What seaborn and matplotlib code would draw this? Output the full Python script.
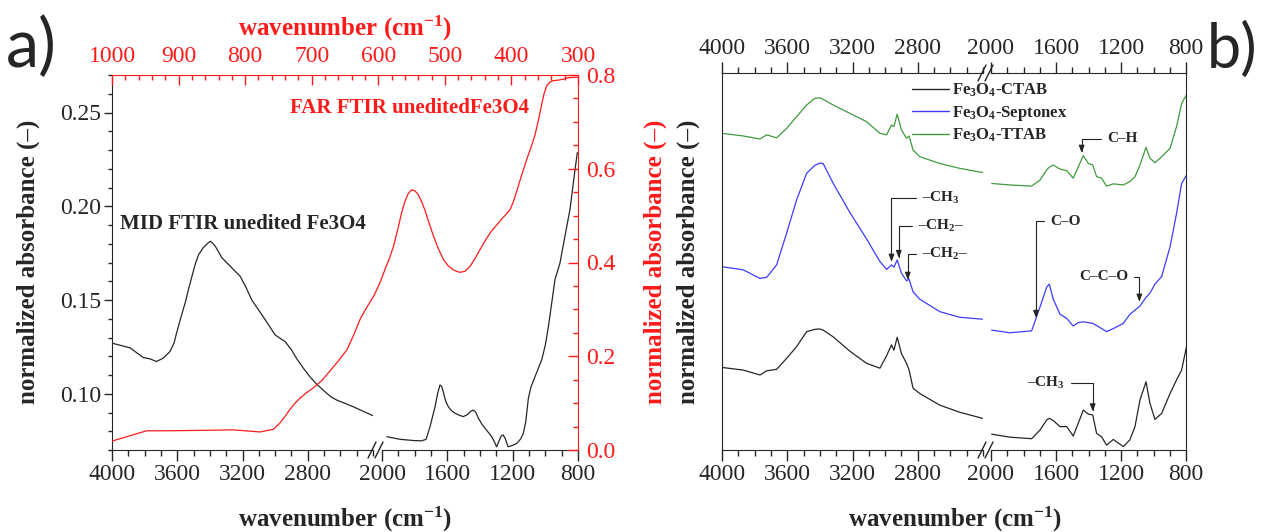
import numpy as np
import pandas as pd
import matplotlib
matplotlib.use("Agg")
import matplotlib.pyplot as plt
import seaborn as sns
from matplotlib.ticker import MultipleLocator, FixedLocator, FormatStrFormatter
from matplotlib.lines import Line2D

sns.set_style("ticks")
plt.rcParams["font.family"] = ["Liberation Serif", "DejaVu Serif"]
plt.rcParams["mathtext.fontset"] = "custom"
plt.rcParams["mathtext.rm"] = "Liberation Serif"
plt.rcParams["mathtext.bf"] = "Liberation Serif:bold"
plt.rcParams["mathtext.it"] = "Liberation Serif:italic"

# ---- panel a: MID FTIR (left axis), broken x axis 4000-2400 | 2000-800
mid_w_hi = [4000, 3890, 3808, 3767, 3727, 3686, 3645, 3620, 3604, 3580, 3551, 3530, 3510,
            3490, 3469, 3440, 3410, 3396, 3380, 3367, 3326, 3265, 3214, 3180, 3143, 3100,
            3061, 3000, 2960, 2940, 2900, 2870, 2830, 2788, 2750, 2706, 2660, 2624, 2522,
            2400]
mid_a_hi = [0.127, 0.1245, 0.1193, 0.1186, 0.1172, 0.119, 0.1225, 0.127, 0.1324, 0.140,
            0.1486, 0.156, 0.1626, 0.169, 0.1742, 0.178, 0.1805, 0.1813, 0.180, 0.1787,
            0.1725, 0.1671, 0.1626, 0.157, 0.150, 0.1445, 0.1395, 0.1314, 0.1290, 0.1279,
            0.1235, 0.119, 0.114, 0.1092, 0.1055, 0.102, 0.0985, 0.0967, 0.0931, 0.0883]
mid_w_lo = [1970, 1890, 1800, 1757, 1730, 1706, 1690, 1675, 1660, 1645, 1635, 1625, 1610,
            1594, 1575, 1553, 1525, 1502, 1475, 1455, 1441, 1425, 1410, 1390, 1369, 1350,
            1328, 1310, 1298, 1285, 1270, 1258, 1245, 1228, 1200, 1175, 1150, 1135, 1120,
            1104, 1090, 1073, 1050, 1022, 1000, 981, 960, 941, 925, 910, 895, 880, 865,
            849, 835, 818, 804]
mid_a_lo = [0.0771, 0.0757, 0.0750, 0.0749, 0.0757, 0.0824, 0.088, 0.0931, 0.100, 0.1047,
            0.1040, 0.1010, 0.096, 0.0931, 0.0910, 0.0896, 0.0885, 0.0878, 0.0890, 0.0908,
            0.0913, 0.0900, 0.0870, 0.0840, 0.0816, 0.0795, 0.0771, 0.0740, 0.0717, 0.0745,
            0.0775, 0.0780, 0.0760, 0.0717, 0.0725, 0.0735, 0.0760, 0.0789, 0.085, 0.0975,
            0.103, 0.107, 0.112, 0.1181, 0.126, 0.1359, 0.149, 0.1609, 0.1655, 0.1698,
            0.177, 0.184, 0.191, 0.1983, 0.208, 0.2197, 0.2286]

# ---- panel a: FAR FTIR (top / right red axes)
far_w = [1000, 948, 918, 860, 818, 778, 758, 748, 740, 733, 725, 718, 708, 698, 685, 673,
         660, 647, 637, 627, 617, 607, 598, 590, 583, 577, 570, 565, 560, 555, 550, 545,
         540, 535, 530, 525, 518, 510, 502, 495, 487, 478, 470, 462, 455, 447, 438, 430,
         422, 415, 408, 402, 397, 392, 385, 377, 370, 365, 360, 355, 351, 347, 342, 337,
         330, 322, 315, 307, 301]
far_a = [0.019, 0.041, 0.041, 0.042, 0.043, 0.0385, 0.044, 0.057, 0.072, 0.086, 0.100,
         0.110, 0.122, 0.132, 0.148, 0.168, 0.190, 0.214, 0.245, 0.280, 0.305, 0.328, 0.355,
         0.385, 0.410, 0.435, 0.475, 0.506, 0.530, 0.547, 0.555, 0.553, 0.545, 0.530, 0.512,
         0.490, 0.460, 0.430, 0.406, 0.393, 0.384, 0.379, 0.381, 0.392, 0.408, 0.428, 0.450,
         0.467, 0.480, 0.492, 0.503, 0.513, 0.530, 0.552, 0.585, 0.620, 0.648, 0.670, 0.700,
         0.734, 0.760, 0.777, 0.785, 0.788, 0.789, 0.791, 0.794, 0.795, 0.795]

# ---- panel b: stacked spectra (arbitrary units)
b_w_hi = [4000, 3870, 3767, 3726, 3665, 3604, 3543, 3481, 3431, 3400, 3380, 3318, 3216,
          3114, 3032, 2991, 2961, 2946, 2926, 2900, 2869, 2853, 2829, 2788, 2665, 2542,
          2403]
ttab_hi = [0.840, 0.833, 0.825, 0.836, 0.828, 0.853, 0.884, 0.915, 0.933, 0.934, 0.930,
           0.915, 0.893, 0.871, 0.840, 0.836, 0.862, 0.858, 0.891, 0.849, 0.827, 0.833,
           0.796, 0.778, 0.760, 0.747, 0.736]
sept_hi = [0.486, 0.478, 0.455, 0.458, 0.491, 0.575, 0.663, 0.734, 0.755, 0.761, 0.760,
           0.707, 0.630, 0.560, 0.500, 0.479, 0.491, 0.485, 0.504, 0.469, 0.449, 0.453,
           0.420, 0.400, 0.367, 0.352, 0.347]
ctab_hi = [0.219, 0.212, 0.199, 0.210, 0.214, 0.243, 0.274, 0.314, 0.320, 0.321, 0.318,
           0.300, 0.262, 0.230, 0.217, 0.250, 0.279, 0.265, 0.299, 0.256, 0.230, 0.212,
           0.164, 0.150, 0.119, 0.100, 0.084]

b_w_lo = [1996, 1883, 1750, 1698, 1657, 1641, 1617, 1575, 1534, 1494, 1463, 1432, 1401,
          1374, 1350, 1319, 1289, 1247, 1186, 1145, 1114, 1083, 1046, 1022, 991, 950, 898,
          858, 827, 797]
ttab_lo = [0.707, 0.703, 0.700, 0.716, 0.743, 0.750, 0.756, 0.745, 0.741, 0.721, 0.751,
           0.781, 0.760, 0.756, 0.725, 0.721, 0.700, 0.706, 0.703, 0.712, 0.725, 0.756,
           0.803, 0.774, 0.762, 0.778, 0.800, 0.858, 0.919, 0.942]
sept_lo = [0.318, 0.311, 0.316, 0.380, 0.432, 0.440, 0.400, 0.360, 0.349, 0.329, 0.338,
           0.340, 0.338, 0.336, 0.330, 0.322, 0.314, 0.322, 0.336, 0.360, 0.371, 0.382,
           0.405, 0.416, 0.440, 0.460, 0.539, 0.628, 0.707, 0.729]
ctab_lo = [0.042, 0.034, 0.030, 0.053, 0.080, 0.084, 0.078, 0.062, 0.062, 0.037, 0.071,
           0.106, 0.095, 0.093, 0.044, 0.035, 0.013, 0.028, 0.009, 0.027, 0.062, 0.133,
           0.181, 0.124, 0.081, 0.097, 0.150, 0.186, 0.212, 0.274]

series_names = [r"Fe$_\mathbf{3}$O$_\mathbf{4}$-CTAB",
                r"Fe$_\mathbf{3}$O$_\mathbf{4}$-Septonex",
                r"Fe$_\mathbf{3}$O$_\mathbf{4}$-TTAB"]
series_colors = ["#262626", "#3c3cff", "#3f9a3f"]

# annotations in panel b: (label, tip wavenumber, tip value, text wavenumber, text value, side)
ann_hi = [("–CH$_\\mathbf{3}$", 2961, 0.499, 2771, 0.668, "left"),
          ("–CH$_\\mathbf{2}$–", 2916, 0.509, 2800, 0.594, "left"),
          ("–CH$_\\mathbf{2}$–", 2861, 0.451, 2775, 0.520, "left")]
ann_lo = [("C–H", 1442, 0.788, 1286, 0.825, "left"),
          ("C–O", 1723, 0.350, 1637, 0.607, "left"),
          ("C–C–O", 1087, 0.393, 1157, 0.459, "right"),
          ("–CH$_\\mathbf{3}$", 1374, 0.102, 1545, 0.178, "right")]

RED = "#ff1a1a"
TICK_FS = 17
W, H = 1271, 532
fig = plt.figure(figsize=(W / 100, H / 100), dpi=100)


def box(x0, y0, x1, y1):
    return [x0 / W, 1 - y1 / H, (x1 - x0) / W, (y1 - y0) / H]


def fpos(x, y):
    return x / W, 1 - y / H


def style_break(ax, side):
    ax.set_xlim(4000, 2400) if side == "hi" else ax.set_xlim(2000, 800)
    ticks = [4000, 3600, 3200, 2800] if side == "hi" else [2000, 1600, 1200, 800]
    ax.xaxis.set_major_locator(FixedLocator(ticks))
    ax.xaxis.set_minor_locator(MultipleLocator(100))
    ax.set_xlabel("")
    ax.set_ylabel("")


def draw(ax, w, a, color, lw=0.9):
    df = pd.DataFrame({"w": w, "a": a})
    sns.lineplot(data=df, x="w", y="a", ax=ax, color=color, lw=lw, sort=False,
                 estimator=None, legend=False)


# ================= panel a =================
a_hi = fig.add_axes(box(112, 75, 373, 450))
a_lo = fig.add_axes(box(382, 75, 578, 450))
a_far = fig.add_axes(box(112, 75, 578, 450))
a_far.patch.set_alpha(0)

draw(a_hi, mid_w_hi, mid_a_hi, "#262626")
draw(a_lo, mid_w_lo, mid_a_lo, "#262626")
draw(a_far, far_w, far_a, RED)

for ax, side in [(a_hi, "hi"), (a_lo, "lo")]:
    style_break(ax, side)
    ax.set_ylim(0.07, 0.27)
    ax.spines["top"].set_visible(False)
    ax.spines["right"].set_visible(False)
    ax.tick_params(axis="x", which="major", direction="out", length=8, width=1,
                   labelsize=TICK_FS, pad=2)
    ax.tick_params(axis="x", which="minor", direction="out", length=4, width=1)
a_hi.yaxis.set_major_locator(FixedLocator([0.10, 0.15, 0.20, 0.25]))
a_hi.yaxis.set_minor_locator(MultipleLocator(0.01))
a_hi.yaxis.set_major_formatter(FormatStrFormatter("%.2f"))
a_hi.tick_params(axis="y", which="major", direction="out", length=6, width=1,
                 labelsize=TICK_FS, pad=2)
a_hi.tick_params(axis="y", which="minor", direction="out", length=3, width=1)
a_lo.spines["left"].set_visible(False)
a_lo.tick_params(axis="y", left=False, labelleft=False)

a_far.set_xlim(1000, 300)
a_far.set_ylim(0, 0.8)
a_far.xaxis.tick_top()
a_far.yaxis.tick_right()
a_far.xaxis.set_major_locator(MultipleLocator(100))
a_far.xaxis.set_minor_locator(MultipleLocator(20))
a_far.yaxis.set_major_locator(MultipleLocator(0.2))
a_far.yaxis.set_minor_locator(MultipleLocator(0.05))
a_far.yaxis.set_major_formatter(FormatStrFormatter("%.1f"))
a_far.set_xlabel("")
a_far.set_ylabel("")
for s in ["left", "bottom"]:
    a_far.spines[s].set_visible(False)
for s in ["top", "right"]:
    a_far.spines[s].set_color(RED)
a_far.tick_params(which="both", direction="in", colors=RED, width=1)
a_far.tick_params(which="major", length=7, labelsize=TICK_FS, labelcolor=RED, pad=6)
a_far.tick_params(which="minor", length=3.5)

fig.text(*fpos(120, 224), "MID FTIR unedited Fe3O4", fontsize=15, fontweight="bold",
         ha="left", va="center")
fig.text(*fpos(290, 108), "FAR FTIR uneditedFe3O4", fontsize=15, fontweight="bold",
         color=RED, ha="left", va="center")
fig.text(*fpos(28, 262), "normalized absorbance (–)", fontsize=18, fontweight="bold",
         rotation=90, ha="center", va="center")
fig.text(*fpos(655, 262), "normalized absorbance (–)", fontsize=18, fontweight="bold",
         rotation=90, ha="center", va="center", color=RED)
fig.text(*fpos(345, 519), "wavenumber (cm$^{\\mathbf{-1}}$)", fontsize=18,
         fontweight="bold", ha="center", va="center")
fig.text(*fpos(345, 28), "wavenumber (cm$^{\\mathbf{-1}}$)", fontsize=18,
         fontweight="bold", ha="center", va="center", color=RED)
fig.text(*fpos(6, 48), "a)", fontsize=48, family="Lato", ha="left", va="center")

# ================= panel b =================
b_hi = fig.add_axes(box(722, 73, 983, 450))
b_lo = fig.add_axes(box(991, 73, 1186, 450))

for ys_hi, ys_lo, c in zip([ctab_hi, sept_hi, ttab_hi], [ctab_lo, sept_lo, ttab_lo],
                           series_colors):
    draw(b_hi, b_w_hi, ys_hi, c)
    draw(b_lo, b_w_lo, ys_lo, c)

for ax, side in [(b_hi, "hi"), (b_lo, "lo")]:
    style_break(ax, side)
    ax.set_ylim(0, 1)
    ax.tick_params(axis="y", left=False, right=False, labelleft=False)
    ax.tick_params(axis="x", which="both", top=True, bottom=True, labeltop=True,
                   labelbottom=True, direction="out", width=1)
    ax.tick_params(axis="x", which="major", length=8, labelsize=TICK_FS, pad=2)
    ax.tick_params(axis="x", which="minor", length=4)
b_hi.spines["right"].set_visible(False)
b_lo.spines["left"].set_visible(False)

for ax, anns in [(b_hi, ann_hi), (b_lo, ann_lo)]:
    for lab, tw, tv, xw, xv, side in anns:
        ax.annotate(lab, xy=(tw, tv), xytext=(xw, xv), fontsize=11, fontweight="bold",
                    ha=side, va="center",
                    arrowprops=dict(arrowstyle="-|>,head_length=0.4,head_width=0.15",
                                    color="#222222", lw=0.8, shrinkA=2, shrinkB=0,
                                    connectionstyle="angle,angleA=0,angleB=90,rad=0"))

handles = [Line2D([], [], color=c, lw=1.0) for c in series_colors]
fig.legend(handles, series_names, loc="upper left", bbox_to_anchor=fpos(912, 82),
           frameon=False, prop={"size": 12, "weight": "bold"}, handlelength=2.2,
           handletextpad=0.2, labelspacing=0.25, borderaxespad=0, borderpad=0)

fig.text(*fpos(688, 262), "normalized absorbance (–)", fontsize=18, fontweight="bold",
         rotation=90, ha="center", va="center")
fig.text(*fpos(955, 519), "wavenumber (cm$^{\\mathbf{-1}}$)", fontsize=18,
         fontweight="bold", ha="center", va="center")
fig.text(*fpos(1207, 50), "b)", fontsize=44, family="Lato", ha="left", va="center")

# break marks "//"
for x0, ys in [(372, [450]), (982, [450, 73])]:
    for yb in ys:
        for dx in (0, 7):
            xa, ya = fpos(x0 - 4 + dx, yb + 8)
            xb, yb2 = fpos(x0 + 4 + dx, yb - 8)
            fig.add_artist(Line2D([xa, xb], [ya, yb2], color="#222222", lw=1.0))

fig.savefig("out.png", dpi=100)
